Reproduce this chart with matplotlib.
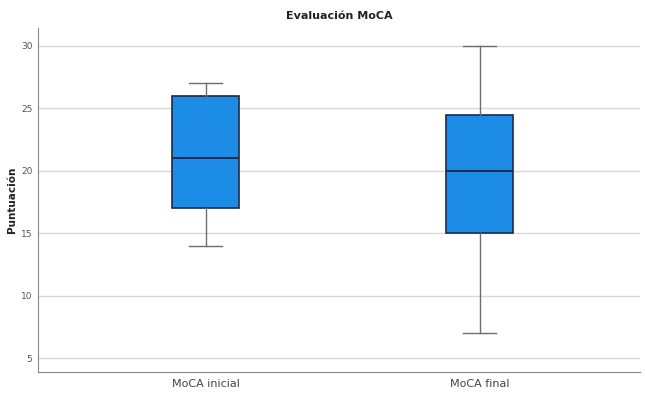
import matplotlib
matplotlib.use("Agg")
import matplotlib.pyplot as plt

categories = ["MoCA inicial", "MoCA final"]
whislo = [14, 7]
q1 = [17, 15]
med = [21, 20]
q3 = [26, 24.5]
whishi = [27, 30]
yticks = [5, 10, 15, 20, 25, 30]

fig = plt.figure(figsize=(6.45, 3.96), dpi=100)
ax = fig.add_axes([38/645, 1-372/396, 602/645, (372-28)/396])

stats = [dict(label=c, whislo=a, q1=b, med=m, q3=d, whishi=e, fliers=[])
         for c, a, b, m, d, e in zip(categories, whislo, q1, med, q3, whishi)]
ax.bxp(stats, positions=[0, 1], widths=0.245, patch_artist=True,
       boxprops=dict(facecolor="#1c8ce6", edgecolor="#1b2a4a", linewidth=1.2),
       medianprops=dict(color="#1b2a4a", linewidth=1.4),
       whiskerprops=dict(color="#6e6e6e", linewidth=1.0),
       capprops=dict(color="#6e6e6e", linewidth=1.0),
       capwidths=0.12, zorder=3)

ax.set_xlim(-0.613, 1.585)
ax.set_ylim(3.88, 31.44)
ax.set_yticks(yticks)
ax.yaxis.grid(True, color="#d9d9d9", linewidth=1.0, zorder=0)
ax.set_axisbelow(True)
for s in ["top", "right"]:
    ax.spines[s].set_visible(False)
for s in ["left", "bottom"]:
    ax.spines[s].set_color("#888888")
    ax.spines[s].set_linewidth(0.8)
ax.tick_params(axis="y", length=0, labelsize=6.5, labelcolor="#555555", pad=4)
ax.tick_params(axis="x", length=0, labelsize=8, labelcolor="#444444", pad=5)
ax.set_ylabel("Puntuación", fontsize=7.5, fontweight="bold", color="#222222", labelpad=3)
ax.set_title("Evaluación MoCA", fontsize=8, fontweight="bold", color="#222222", pad=6.5)

fig.savefig("out.png", dpi=100)
